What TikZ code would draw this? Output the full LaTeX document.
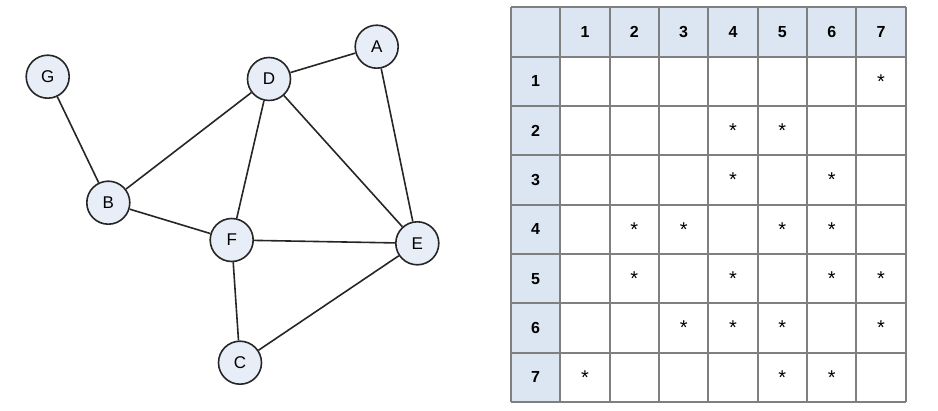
\documentclass[tikz,border=0pt]{standalone}
\usepackage{fontspec}
\setmainfont{Liberation Sans}
\begin{document}
\begin{tikzpicture}[x=1pt,y=-1pt,
  vtx/.style={circle,draw=black!85,line width=1.6pt,fill=nodefill,minimum size=43pt,inner sep=0pt,font=\fontsize{17}{20}\selectfont},
  edge/.style={draw=black!85,line width=1.6pt},
  hlab/.style={font=\bfseries\fontsize{16}{18}\selectfont},
  star/.style={font=\fontsize{20}{22}\selectfont}]
\definecolor{nodefill}{HTML}{E8EEF8}
\definecolor{hdrfill}{HTML}{DCE6F2}
\definecolor{gridc}{HTML}{7F7F7F}
\useasboundingbox (0,0) rectangle (938,411);
% graph
\node[vtx] (G) at (47.7,76.7) {G};
\node[vtx] (D) at (269,79) {D};
\node[vtx] (A) at (376.7,46.7) {A};
\node[vtx] (B) at (108.3,202.7) {B};
\node[vtx] (F) at (231.7,240) {F};
\node[vtx] (E) at (417.3,243.3) {E};
\node[vtx] (C) at (240,362.7) {C};
\draw[edge] (G) -- (B);
\draw[edge] (D) -- (A);
\draw[edge] (D) -- (B);
\draw[edge] (D) -- (F);
\draw[edge] (D) -- (E);
\draw[edge] (A) -- (E);
\draw[edge] (B) -- (F);
\draw[edge] (F) -- (E);
\draw[edge] (F) -- (C);
\draw[edge] (E) -- (C);
% table
\def\tx{511}\def\ty{7.3}\def\cw{49.34}\def\ch{49.34}
\fill[hdrfill] (\tx,\ty) rectangle (\tx+8*\cw,\ty+\ch);
\fill[hdrfill] (\tx,\ty) rectangle (\tx+\cw,\ty+8*\ch);
\foreach \i in {0,...,8}{
  \draw[gridc,line width=1.8pt] (\tx+\i*\cw,\ty) -- (\tx+\i*\cw,\ty+8*\ch);
  \draw[gridc,line width=1.8pt] (\tx,\ty+\i*\ch) -- (\tx+8*\cw,\ty+\i*\ch);
}
\foreach \i in {1,...,7}{
  \node[hlab] (c\i) at (\tx+\i*\cw+0.5*\cw,\ty+0.5*\ch) {\i};
  \node[hlab] (r\i) at (\tx+0.5*\cw,\ty+\i*\ch+0.5*\ch) {\i};
}
\foreach \r/\c in {1/7, 2/4,2/5, 3/4,3/6, 4/2,4/3,4/5,4/6, 5/2,5/4,5/6,5/7, 6/3,6/4,6/5,6/7, 7/1,7/5,7/6}{
  \node[star] (s\r\c) at (\tx+\c*\cw+0.5*\cw,\ty+\r*\ch+0.5*\ch) {*};
}
\end{tikzpicture}
\end{document}
